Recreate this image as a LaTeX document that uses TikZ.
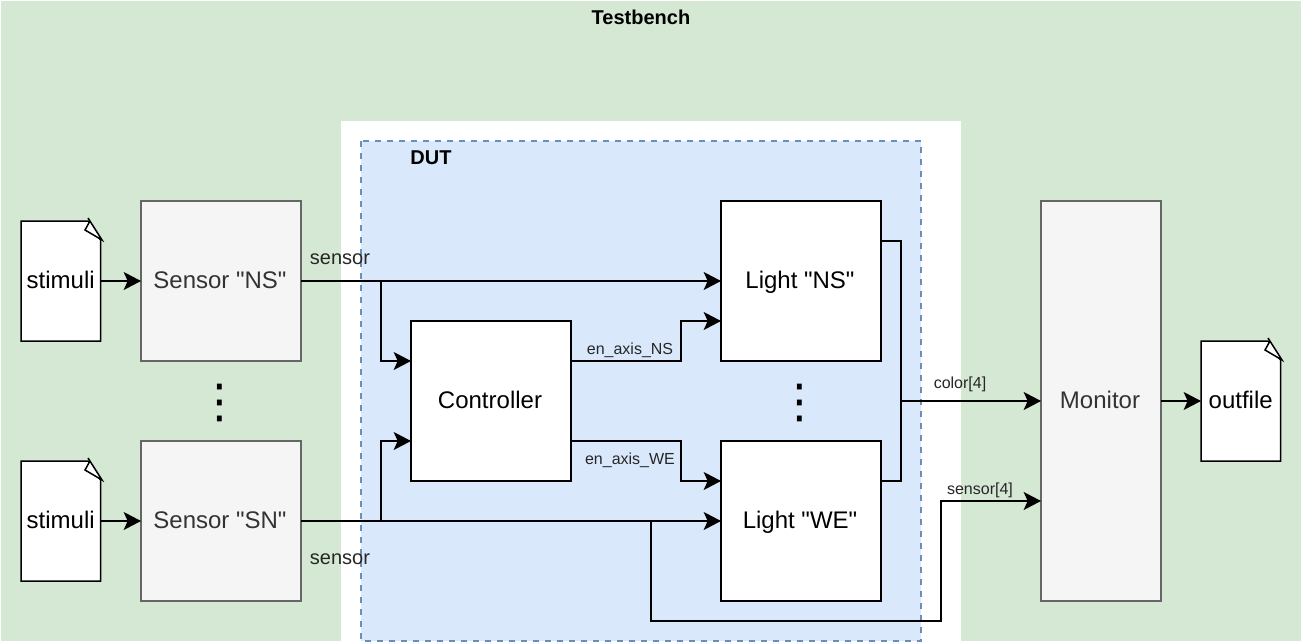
\documentclass[tikz,border=0pt]{standalone}
\usepackage{fontspec}
\setmainfont{Liberation Sans}
\newfontfamily\blockfont{Liberation Sans}
\newfontfamily\dotsfont{DejaVu Sans}
\usetikzlibrary{arrows.meta}
\definecolor{tbgreen}{HTML}{D5E8D4}
\definecolor{dutblue}{HTML}{DAE8FC}
\definecolor{dutedge}{HTML}{6C8EBF}
\definecolor{sensfill}{HTML}{F5F5F5}
\definecolor{sensedge}{HTML}{666666}
\definecolor{senstext}{HTML}{333333}
\newcommand{\docsheet}[2]{%
  \begin{scope}[shift={(#1,#2)}]
    \draw[sheetline, fill=white] (-40,-60) -- (27,-60) -- (39.5,-41) -- (39.5,60) -- (-40,60) -- cycle;
    \draw[sheetline, fill=white, line join=miter] (27,-63) -- (41,-41) -- (24,-51) -- (29,-60);
  \end{scope}}
\begin{document}
\begin{tikzpicture}[x=0.75pt, y=-0.75pt, line width=1.5pt*0.75, >={Stealth[length=13pt,width=13.5pt,inset=3pt]},
    sheetline/.style={draw=black, line width=1.5pt*0.75},
    block/.style={draw=black, fill=white, line width=1.5pt*0.75, inner sep=0pt, outer sep=0pt, text height=14.4pt, text depth=3.8pt, execute at end node=\hspace{1.5pt}, font=\blockfont\fontsize{18pt}{20pt}\selectfont},
    sensorblock/.style={block, draw=sensedge, fill=sensfill, text=senstext},
    doctext/.style={inner sep=0pt, minimum width=59.6pt, minimum height=90pt, outer sep=0pt, text height=14.4pt, text depth=3.8pt, font=\blockfont\fontsize{18pt}{20pt}\selectfont},
    signal/.style={inner sep=0pt, text=black!85, font=\fontsize{12pt}{14pt}\selectfont},
    sensorlabel/.style={inner sep=0pt, text=black!85, font=\fontsize{15pt}{17pt}\selectfont},
    title/.style={inner sep=0pt, font=\bfseries\fontsize{15pt}{17pt}\selectfont},
    vdotted/.style={inner sep=0pt, font=\dotsfont\fontsize{35pt}{40pt}\selectfont}]
    \useasboundingbox (0,0) rectangle (1304,642);
    % background areas
    \fill[tbgreen] (1,1) rectangle (1301,641);
    \fill[white] (341,121) rectangle (961,641);
    \draw[draw=dutedge, fill=dutblue, dash pattern=on 4.5pt off 4.5pt] (361,141) rectangle (921,641);
    \node[title] (testbench) at (641,17) {Testbench};
    \node[title] (dut) at (431,158) {DUT};
    % files
    \docsheet{61}{281}
    \docsheet{61}{521}
    \docsheet{1241}{401}
    \node[doctext] (stimNS) at (60.7,281) {stimuli};
    \node[doctext] (stimSN) at (60.7,521) {stimuli};
    \node[doctext] (outfile) at (1240.7,401) {outfile};
    % blocks
    \node[sensorblock, minimum width=120pt, minimum height=120pt] (sensorNS) at (221,281) {Sensor "NS"};
    \node[sensorblock, minimum width=120pt, minimum height=120pt] (sensorSN) at (221,521) {Sensor "SN"};
    \node[block, minimum width=120pt, minimum height=120pt] (ctrl) at (491,401) {Controller};
    \node[block, minimum width=120pt, minimum height=120pt] (lightNS) at (801,281) {Light "NS"};
    \node[block, minimum width=120pt, minimum height=120pt] (lightWE) at (801,521) {Light "WE"};
    \node[sensorblock, minimum width=90pt, minimum height=300pt] (monitor) at (1101,401) {Monitor};
    \node[vdotted] (dotsL) at (220,403) {⋮};
    \node[vdotted] (dotsR) at (800,403) {⋮};
    % junctions
    \coordinate (tapNS) at (381,281);
    \coordinate (tapSN) at (381,521);
    \coordinate (ctrlA) at (411,361);
    \coordinate (ctrlB) at (411,441);
    \coordinate (ctrlNS) at (571,361);
    \coordinate (ctrlWE) at (571,441);
    \coordinate (lightNSb) at (721,321);
    \coordinate (lightWEb) at (721,481);
    \coordinate (lightNSo) at (881,241);
    \coordinate (lightWEo) at (881,481);
    \coordinate (tapLoop) at (651,521);
    \coordinate (monA) at (1041,401);
    \coordinate (monB) at (1041,501);
    % connectors
    \draw[->] (stimNS.east) -- (sensorNS.west);
    \draw[->] (stimSN.east) -- (sensorSN.west);
    \draw[->] (sensorNS.east) -- (lightNS.west);
    \draw[->] (sensorSN.east) -- (lightWE.west);
    \draw[->] (tapNS) |- (ctrlA);
    \draw[->] (tapSN) |- (ctrlB);
    \draw[->] (ctrlNS) -- (681,361) |- (lightNSb);
    \draw[->] (ctrlWE) -- (681,441) |- (lightWEb);
    \draw[->] (lightNSo) -- (901,241) |- (monA);
    \draw (lightWEo) -- (901,481) -- (901,401);
    \draw[->] (tapLoop) |- (941,621) |- (monB);
    \draw[->] (monitor.east) -- (outfile.west);
    % labels
    \node[sensorlabel] (lblNS) at (340,259) {sensor};
    \node[sensorlabel] (lblSN) at (340,559) {sensor};
    \node[signal] (lblaxNS) at (630,350) {en\_axis\_NS};
    \node[signal] (lblaxWE) at (630,460) {en\_axis\_WE};
    \node[signal] (lblcolor) at (960,384) {color[4]};
    \node[signal] (lblsensor) at (980,490) {sensor[4]};
\end{tikzpicture}
\end{document}
